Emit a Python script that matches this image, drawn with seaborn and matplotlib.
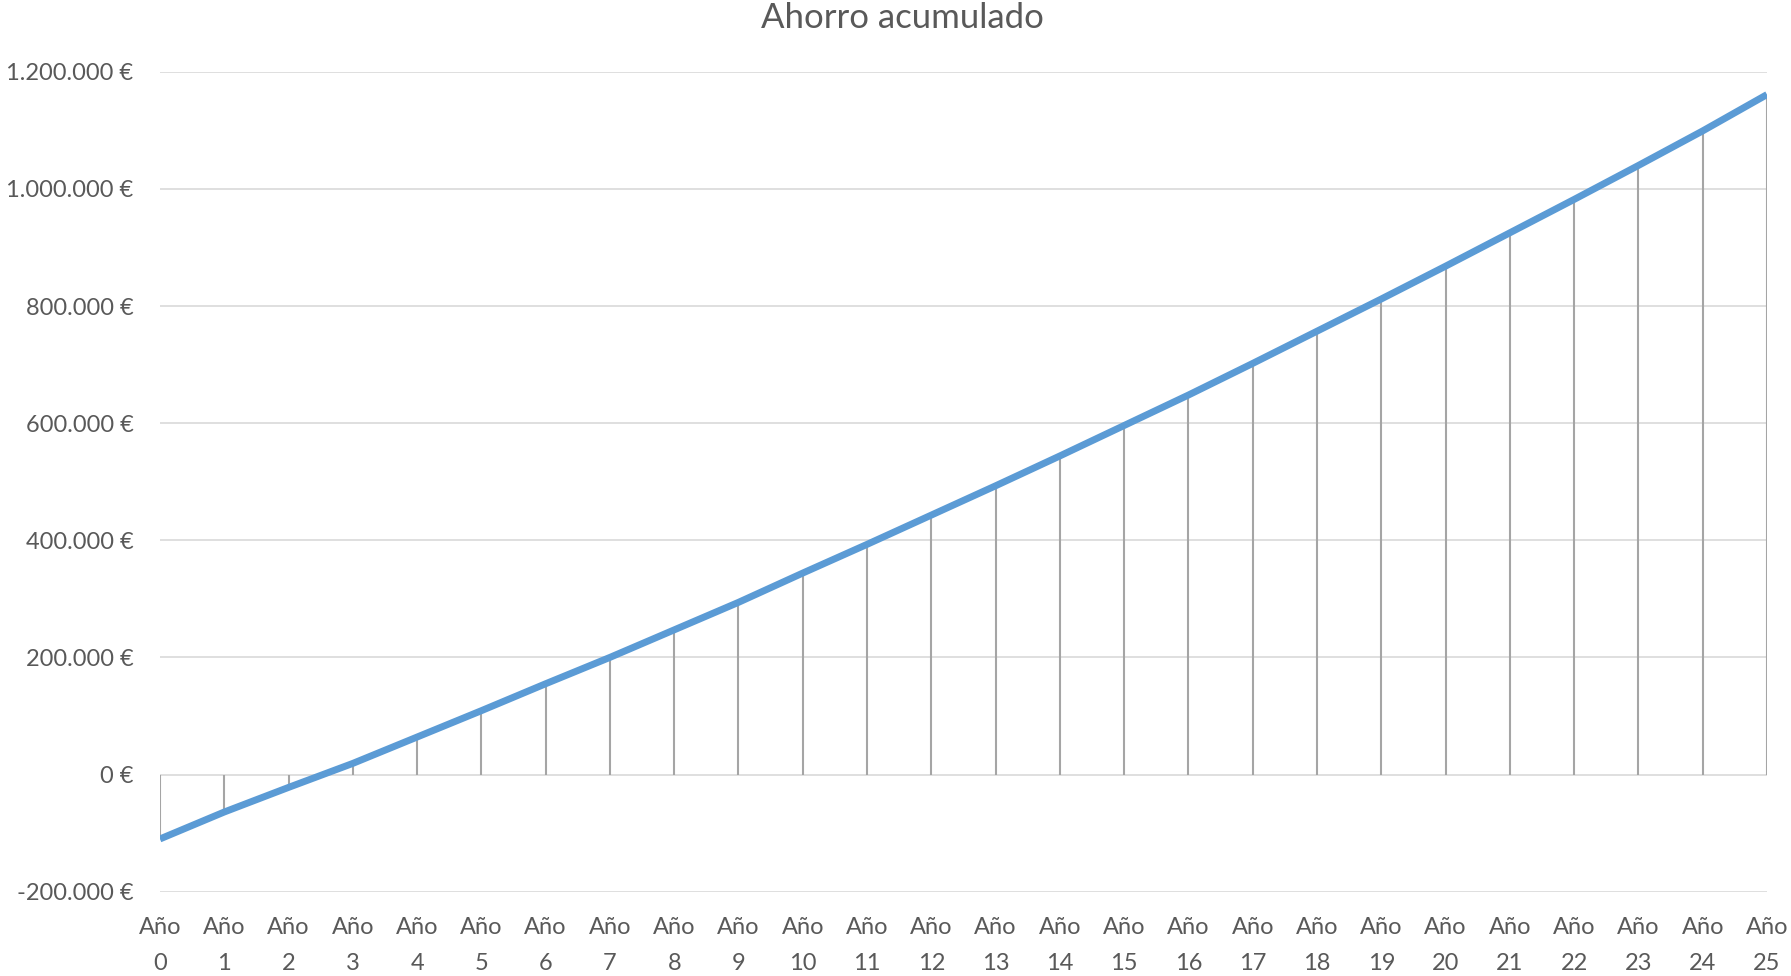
import numpy as np
import pandas as pd
import seaborn as sns
import matplotlib.pyplot as plt
from matplotlib.ticker import FuncFormatter

sns.set_theme(style="white")
plt.rcParams['font.family'] = ['Lato', 'DejaVu Sans']

# accumulated savings per year (in euros)
years = list(range(26))
ahorro = [-110000, -64000, -22000, 19000, 64000, 109000, 155000, 200000,
          247000, 294000, 344000, 393000, 443000, 493000, 544000, 596000,
          648000, 702000, 757000, 812000, 868000, 925000, 982000, 1040000,
          1099000, 1161000]
year_labels = ["Año\n%d" % y for y in years]
y_ticks = [-200000, 0, 200000, 400000, 600000, 800000, 1000000, 1200000]

df = pd.DataFrame({"anio": years, "ahorro": ahorro})

text_col = "#595959"
fig = plt.figure(figsize=(17.91, 9.76), dpi=100)
ax = fig.add_axes([0.0893, 0.0864, 0.8973, 0.8401])

# drop lines down to the zero axis
ax.vlines(df["anio"], 0, df["ahorro"], color="#a5a5a5", lw=1.5, zorder=2)
sns.lineplot(data=df, x="anio", y="ahorro", ax=ax, color="#5b9bd5", lw=5,
             zorder=3, solid_capstyle="butt")

ax.set_xlim(0, 25)
ax.set_ylim(-200000, 1200000)
ax.set_yticks(y_ticks)
ax.yaxis.set_major_formatter(FuncFormatter(lambda v, p: f"{v:,.0f} €".replace(",", ".")))
ax.set_xticks(years)
ax.set_xticklabels(year_labels, linespacing=1.9)
ax.grid(axis="y", color="#d9d9d9", lw=1.2)
ax.grid(axis="x", visible=False)
for s in ax.spines.values():
    s.set_visible(False)
ax.tick_params(axis="y", length=0, pad=19, labelsize=17, labelcolor=text_col)
ax.tick_params(axis="x", length=0, pad=18, labelsize=17, labelcolor=text_col)
ax.set_xlabel("")
ax.set_ylabel("")

fig.suptitle("Ahorro acumulado", x=0.504, y=0.998, fontsize=25, color=text_col, va="top")

fig.savefig("out.png", dpi=100)
